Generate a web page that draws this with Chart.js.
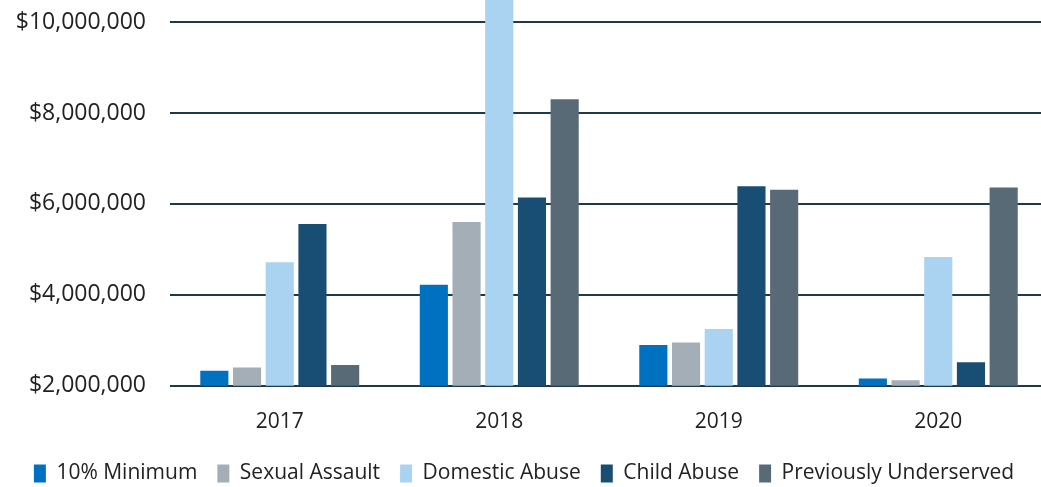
<!DOCTYPE html>
<html>
<head>
<meta charset="utf-8">
<script src="https://cdn.jsdelivr.net/npm/chart.js@4"></script>
<style>
  html, body { margin: 0; padding: 0; background: #fff; overflow: hidden; }
  #wrap { width: 1048px; height: 487px; }
</style>
</head>
<body>
<div id="wrap"><canvas id="fundChart" width="1048" height="487"></canvas></div>
<script>
// Funding by category per year
const years = ["2017", "2018", "2019", "2020"];
const minimum10 = [2330000, 4220000, 2900000, 2160000];
const sexualAssault = [2400000, 5600000, 2950000, 2120000];
const domesticAbuse = [4720000, 11000000, 3250000, 4830000];
const childAbuse = [5560000, 6140000, 6390000, 2520000];
const prevUnderserved = [2460000, 8300000, 6310000, 6360000];
const yTicks = [2000000, 4000000, 6000000, 8000000, 10000000];

const font = "'Open Sans', sans-serif";

function series(label, data, color) {
    return {
        label: label,
        data: data,
        backgroundColor: color,
        borderWidth: 0,
        barPercentage: 0.86,
        categoryPercentage: 0.745
    };
}

var ctx = document.getElementById("fundChart").getContext("2d");
new Chart(ctx, {
    type: "bar",
    data: {
        labels: years,
        datasets: [
            series("10% Minimum", minimum10, "#0070c0"),
            series("Sexual Assault", sexualAssault, "#a3aeb7"),
            series("Domestic Abuse", domesticAbuse, "#a9d3f0"),
            series("Child Abuse", childAbuse, "#184e74"),
            series("Previously Underserved", prevUnderserved, "#596a77")
        ]
    },
    options: {
        responsive: false,
        animation: false,
        layout: { padding: { left: 0, right: 0, top: 0, bottom: -7 } },
        plugins: {
            tooltip: { enabled: false },
            legend: {
                position: "bottom",
                labels: {
                    boxWidth: 12,
                    boxHeight: 18,
                    padding: 20,
                    color: "#222",
                    font: { family: font, size: 21 }
                }
            }
        },
        scales: {
            x: {
                grid: { display: false },
                border: { display: false },
                afterFit: axis => { axis.height -= 8; },
                ticks: { color: "#222", padding: 16, font: { family: font, size: 21 } }
            },
            y: {
                min: 2000000,
                max: 10485000,
                afterBuildTicks: axis => { axis.ticks = yTicks.map(v => ({ value: v })); },
                afterFit: axis => { axis.width = 170; axis.paddingTop = 0; axis.paddingBottom = 0; },
                grid: { color: "#1e3a4a", lineWidth: 2, drawTicks: false },
                border: { display: false },
                ticks: {
                    color: "#222",
                    padding: 24,
                    font: { family: font, size: 23 },
                    callback: v => "$" + v.toLocaleString("en-US")
                }
            }
        }
    }
});
</script>
</body>
</html>
